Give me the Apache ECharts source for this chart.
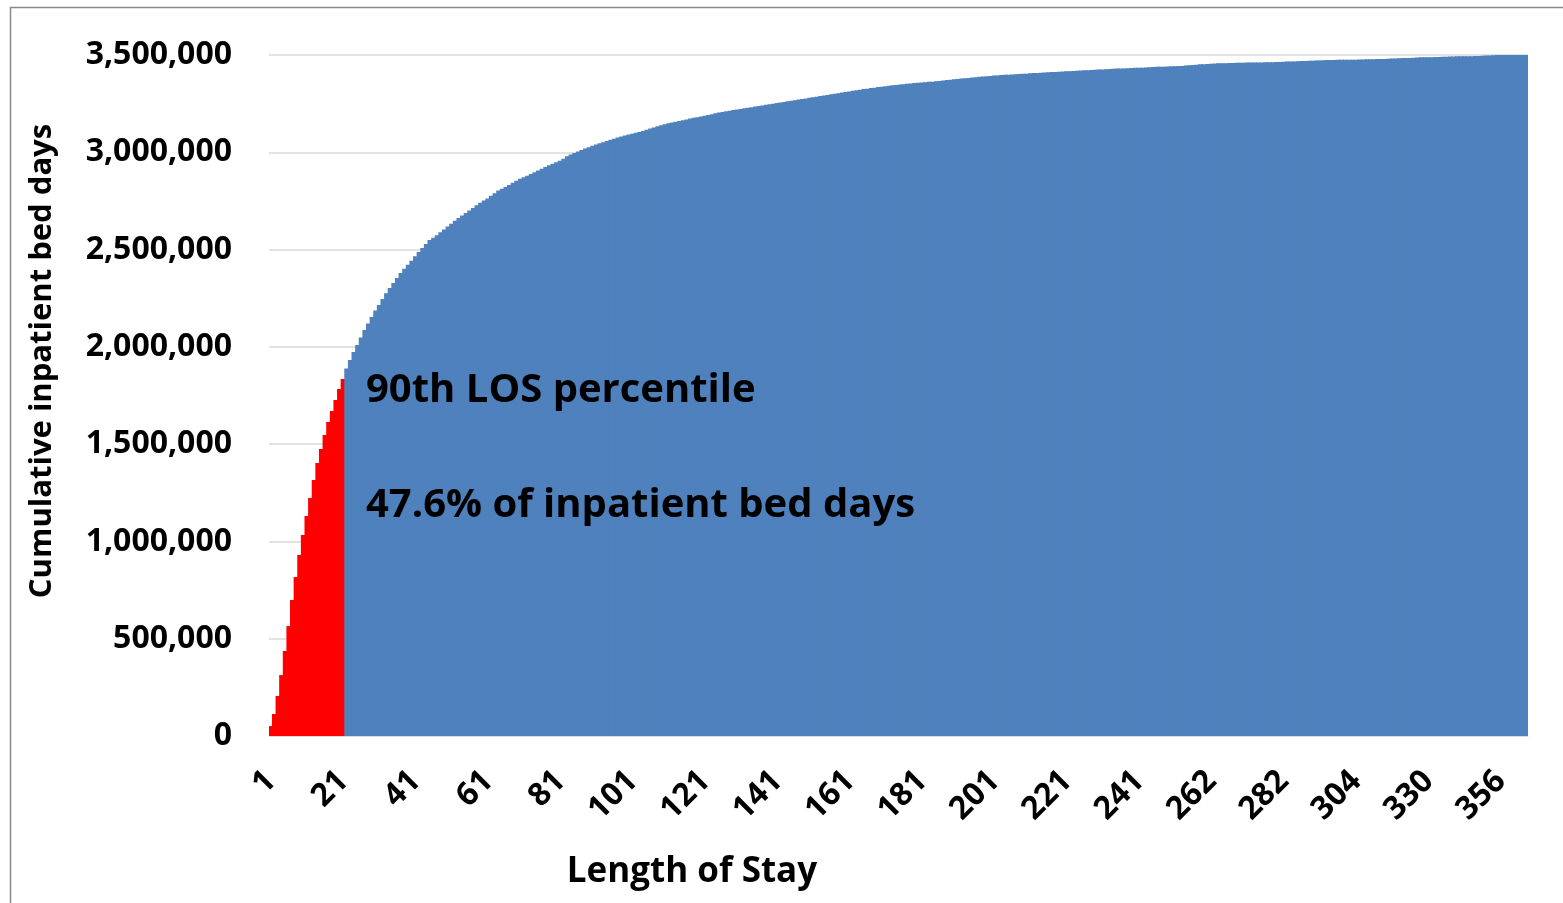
<!DOCTYPE html>
<html>
<head>
<meta charset="utf-8">
<title>Cumulative inpatient bed days by length of stay</title>
<script src="https://cdn.jsdelivr.net/npm/echarts@6/dist/echarts.min.js"></script>
<style>
  html, body { margin: 0; padding: 0; background: #fff; }
  #chart { width: 1563px; height: 903px; }
</style>
</head>
<body>
<div id="chart"></div>
<script>
// length of stay (days) - one bar per LOS value present in the data
const losDays = [
  1, 2, 3, 4, 5, 6, 7, 8, 9, 10, 11, 12, 13, 14, 15, 16, 17, 18, 19, 20,
  21, 22, 23, 24, 25, 26, 27, 28, 29, 30, 31, 32, 33, 34, 35, 36, 37, 38, 39, 40,
  41, 42, 43, 44, 45, 46, 47, 48, 49, 50, 51, 52, 53, 54, 55, 56, 57, 58, 59, 60,
  61, 62, 63, 64, 65, 66, 67, 68, 69, 70, 71, 72, 73, 74, 75, 76, 77, 78, 79, 80,
  81, 82, 83, 84, 85, 86, 87, 88, 89, 90, 91, 92, 93, 94, 95, 96, 97, 98, 99, 100,
  101, 102, 103, 104, 105, 106, 107, 108, 109, 110, 111, 112, 113, 114, 115, 116, 117, 118, 119, 120,
  121, 122, 123, 124, 125, 126, 127, 128, 129, 130, 131, 132, 133, 134, 135, 136, 137, 138, 139, 140,
  141, 142, 143, 144, 145, 146, 147, 148, 149, 150, 151, 152, 153, 154, 155, 156, 157, 158, 159, 160,
  161, 162, 163, 164, 165, 166, 167, 168, 169, 170, 171, 172, 173, 174, 175, 176, 177, 178, 179, 180,
  181, 182, 183, 184, 185, 186, 187, 188, 189, 190, 191, 192, 193, 194, 195, 196, 197, 198, 199, 200,
  201, 202, 203, 204, 205, 206, 207, 208, 209, 210, 211, 212, 213, 214, 215, 216, 217, 218, 219, 220,
  221, 222, 223, 224, 225, 226, 227, 228, 229, 230, 231, 232, 233, 234, 235, 236, 237, 238, 239, 240,
  241, 242, 243, 244, 245, 246, 247, 248, 249, 250, 251, 252, 253, 254, 255, 256, 258, 259, 260, 261,
  262, 263, 264, 265, 266, 267, 268, 269, 270, 271, 272, 273, 274, 275, 276, 277, 278, 279, 280, 281,
  282, 283, 284, 285, 286, 287, 288, 289, 290, 292, 293, 294, 295, 296, 297, 298, 300, 301, 302, 303,
  304, 305, 306, 307, 308, 310, 311, 312, 314, 315, 316, 318, 319, 320, 322, 323, 325, 326, 328, 329,
  330, 331, 332, 333, 335, 336, 337, 339, 340, 342, 343, 344, 346, 347, 348, 350, 351, 353, 354, 355,
  356, 357, 358, 359, 360, 362, 364, 366
];

// cumulative inpatient bed days at each LOS value
const cumulativeBedDays = [
  51000, 113000, 206000, 313000, 437000, 565000, 699000, 817000, 930000, 1033000,
  1131000, 1223000, 1316000, 1403000, 1475000, 1547000, 1614000, 1670000, 1727000, 1783000,
  1835000, 1889000, 1932000, 1973000, 2009000, 2048000, 2086000, 2120000, 2153000, 2187000,
  2215000, 2246000, 2275000, 2302000, 2328000, 2354000, 2379000, 2401000, 2422000, 2443000,
  2466000, 2487000, 2508000, 2529000, 2549000, 2561000, 2574000, 2589000, 2603000, 2618000,
  2633000, 2648000, 2662000, 2675000, 2688000, 2701000, 2714000, 2728000, 2741000, 2752000,
  2763000, 2776000, 2789000, 2803000, 2813000, 2822000, 2832000, 2843000, 2854000, 2864000,
  2872000, 2880000, 2888000, 2897000, 2906000, 2915000, 2924000, 2933000, 2941000, 2949000,
  2957000, 2967000, 2980000, 2989000, 2996000, 3004000, 3012000, 3019000, 3026000, 3033000,
  3040000, 3046000, 3052000, 3058000, 3064000, 3070000, 3076000, 3081000, 3086000, 3091000,
  3095000, 3100000, 3104000, 3110000, 3116000, 3122000, 3128000, 3134000, 3139000, 3144000,
  3149000, 3153000, 3157000, 3161000, 3165000, 3169000, 3173000, 3177000, 3180000, 3184000,
  3188000, 3192000, 3196000, 3200000, 3204000, 3207000, 3211000, 3214000, 3217000, 3220000,
  3223000, 3226000, 3229000, 3232000, 3235000, 3238000, 3241000, 3244000, 3247000, 3250000,
  3253000, 3256000, 3259000, 3262000, 3265000, 3268000, 3271000, 3274000, 3277000, 3280000,
  3283000, 3286000, 3289000, 3292000, 3295000, 3298000, 3301000, 3304000, 3307000, 3310000,
  3313000, 3316000, 3319000, 3322000, 3325000, 3327000, 3330000, 3332000, 3335000, 3337000,
  3340000, 3342000, 3344000, 3346000, 3348000, 3350000, 3352000, 3354000, 3356000, 3357000,
  3359000, 3360000, 3362000, 3363000, 3365000, 3367000, 3369000, 3371000, 3373000, 3375000,
  3377000, 3379000, 3381000, 3382000, 3384000, 3386000, 3388000, 3389000, 3391000, 3392000,
  3394000, 3395000, 3397000, 3398000, 3399000, 3400000, 3401000, 3402000, 3403000, 3404000,
  3406000, 3407000, 3408000, 3409000, 3410000, 3411000, 3412000, 3413000, 3414000, 3415000,
  3416000, 3417000, 3418000, 3419000, 3420000, 3421000, 3422000, 3423000, 3424000, 3425000,
  3426000, 3427000, 3428000, 3429000, 3430000, 3431000, 3431000, 3432000, 3433000, 3434000,
  3435000, 3435000, 3436000, 3437000, 3438000, 3439000, 3439000, 3440000, 3441000, 3442000,
  3442000, 3443000, 3444000, 3446000, 3447000, 3449000, 3450000, 3452000, 3453000, 3454000,
  3455000, 3456000, 3457000, 3457000, 3458000, 3459000, 3459000, 3460000, 3460000, 3460000,
  3461000, 3461000, 3462000, 3462000, 3462000, 3463000, 3463000, 3463000, 3464000, 3464000,
  3465000, 3466000, 3466000, 3467000, 3468000, 3469000, 3469000, 3470000, 3471000, 3472000,
  3472000, 3473000, 3474000, 3474000, 3474000, 3475000, 3475000, 3475000, 3476000, 3476000,
  3476000, 3477000, 3477000, 3478000, 3478000, 3478000, 3479000, 3480000, 3480000, 3481000,
  3482000, 3482000, 3483000, 3484000, 3485000, 3485000, 3486000, 3487000, 3488000, 3488000,
  3489000, 3489000, 3490000, 3490000, 3491000, 3491000, 3492000, 3492000, 3493000, 3493000,
  3494000, 3494000, 3494000, 3495000, 3495000, 3496000, 3497000, 3498000, 3499000, 3500000,
  3501000, 3502000, 3503000, 3505000, 3506000, 3507000, 3508000, 3510000
];

// bars up to and including this LOS are highlighted (90th percentile)
const percentileLos = 21;
const annotationLines = ["90th LOS percentile", "47.6% of inpatient bed days"];

const FONT = "'Open Sans'";
const BLUE = "#4f81bd";
const RED = "#ff0000";

const chart = echarts.init(document.getElementById("chart"), null, { renderer: "canvas" });

const barData = cumulativeBedDays.map((v, i) => ({
  value: v,
  itemStyle: { color: losDays[i] <= percentileLos ? RED : BLUE }
}));

const option = {
  animation: false,
  backgroundColor: "#fff",
  grid: { left: 269, right: 35, top: 55, bottom: 167 },
  xAxis: {
    type: "category",
    data: losDays,
    axisLine: { lineStyle: { color: "#d9d9d9", width: 1.5 } },
    axisTick: { show: false },
    axisLabel: {
      interval: 19,
      rotate: 45,
      margin: 40,
      fontFamily: FONT,
      fontWeight: "bold",
      fontSize: 32,
      color: "#000"
    }
  },
  yAxis: {
    type: "value",
    min: 0,
    max: 3500000,
    interval: 500000,
    axisLine: { show: false },
    axisTick: { show: false },
    splitLine: { lineStyle: { color: "#d9d9d9", width: 1.5 } },
    axisLabel: {
      margin: 37,
      fontFamily: FONT,
      fontWeight: "bold",
      fontSize: 32,
      color: "#000",
      formatter: v => v.toLocaleString("en-US")
    }
  },
  series: [
    {
      type: "bar",
      data: barData,
      // bars a little wider than a category so neighbours overlap: no white seams
      barWidth: 5,
      barGap: "-100%"
    }
  ],
  graphic: [
    {
      type: "rect",
      left: 8,
      top: 5,
      shape: { width: 1600, height: 1000 },
      style: { fill: "none", stroke: "#898989", lineWidth: 1.5 },
      silent: true
    },
    {
      type: "text",
      style: {
        x: 366, y: 391, verticalAlign: "middle",
        text: annotationLines[0], font: "bold 40px " + FONT, fill: "#000"
      },
      z: 100
    },
    {
      type: "text",
      style: {
        x: 366, y: 506, verticalAlign: "middle",
        text: annotationLines[1], font: "bold 40px " + FONT, fill: "#000"
      },
      z: 100
    },
    {
      // axis titles sit off the plot centre in the original, so place them directly
      type: "text",
      x: 692,
      y: 872,
      style: {
        align: "center", verticalAlign: "middle",
        text: "Length of Stay", font: "bold 35px " + FONT, fill: "#000"
      }
    },
    {
      type: "text",
      x: 42,
      y: 361,
      rotation: Math.PI / 2,
      style: {
        align: "center", verticalAlign: "middle",
        text: "Cumulative inpatient bed days", font: "bold 31px " + FONT, fill: "#000"
      }
    }
  ]
};

chart.setOption(option);
</script>
</body>
</html>
